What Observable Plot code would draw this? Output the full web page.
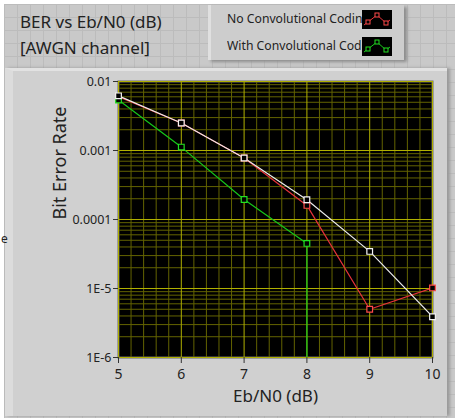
<!DOCTYPE html>
<html><head><meta charset="utf-8">
<script src="https://cdn.jsdelivr.net/npm/d3@7"></script>
<script src="https://cdn.jsdelivr.net/npm/@observablehq/plot@0.6"></script>
<style>
body{margin:0;background:#fff;}
#root{position:relative;width:455px;height:418px;overflow:hidden;background-color:#c9c9c9;
 background-image:linear-gradient(#bcbcbc 1px,transparent 1px),linear-gradient(90deg,#bcbcbc 1px,transparent 1px);
 background-size:13px 13px;background-position:4px 4px;
 font-family:"Segoe UI","Noto Sans",sans-serif;color:#222;}
#edge{position:absolute;left:0;top:0;width:455px;height:418px;box-sizing:border-box;border-top:4px solid #fff;border-left:4px solid #fff;}
.title{position:absolute;left:20px;font-size:17px;color:#222;white-space:nowrap;}
#panel{position:absolute;left:5px;top:68px;width:442px;height:348px;background:#d0d0d0;
 box-sizing:border-box;border-left:8px solid #dcdcdc;border-top:3px solid #e2e2e2;box-shadow:3px 0 3px #9a9a9a;}
#legend{position:absolute;left:208px;top:5px;width:196px;height:55px;background:#cdcdcd;
 box-sizing:border-box;border-left:3px solid #e0e0e0;box-shadow:3px 2px 3px #8d8d8d;}
.lrow{position:absolute;left:16px;font-size:12.2px;white-space:nowrap;overflow:hidden;width:135px;color:#222;}
.sw{position:absolute;left:151px;width:30px;height:19px;background:#000;}
#chart{position:absolute;left:0;top:0;}
#stray{position:absolute;left:1px;top:230px;font-size:12px;}
</style></head>
<body>
<div id="root">
  <div id="edge"></div>
  <div class="title" style="top:10px">BER vs Eb/N0 (dB)</div>
  <div class="title" style="top:36px">[AWGN channel]</div>
  <div id="legend"></div>
  <div id="panel"></div>
  <div id="stray">e</div>
  <div id="chart"></div>
</div>
<script>
// ---- data ----
const ebn0 = [5, 6, 7, 8, 9, 10];
const berNoCoding   = [0.0060, 0.0025, 0.00078, 0.00016, 0.0000050, 0.0000102];
const berWithCoding = [0.0054, 0.00112, 0.000195, 0.000045, 0, 0];
const berReference  = [0.0062, 0.0025, 0.00078, 0.000193, 0.0000345, 0.0000039];
const seriesNames = ["No Convolutional Coding", "With Convolutional Coding"];
const xTickValues = [5, 6, 7, 8, 9, 10];
const yTickValues = [0.01, 0.001, 0.0001, 0.00001, 0.000001];
const yTickLabels = ["0.01", "0.001", "0.0001", "1E-5", "1E-6"];
const xLabel = "Eb/N0 (dB)";
const yLabel = "Bit Error Rate";

const yMin = 1e-6, yMax = 0.01;

// series -> point rows (zero values drop straight down to the axis floor)
function toLine(values) {
  const pts = [];
  let lastX = null;
  for (let i = 0; i < ebn0.length; i++) {
    if (values[i] > 0) { pts.push({x: ebn0[i], y: values[i]}); lastX = ebn0[i]; }
    else { if (lastX !== null) pts.push({x: lastX, y: yMin * 0.5}); break; }
  }
  return pts;
}
function toDots(values) {
  return ebn0.map((x, i) => ({x, y: values[i]})).filter(d => d.y > 0);
}

// grid
const xMinor = d3.range(50, 101, 2).filter(v => v % 10 !== 0).map(v => v / 10);
const xMajor = xTickValues;
const yMajor = yTickValues;
const yMinor = [];
for (const dec of [1e-6, 1e-5, 1e-4, 1e-3]) for (let k = 2; k <= 9; k++) yMinor.push(dec * k);

const redC = "#e8323a", greenC = "#16c81a", whiteC = "#ececec";

const chart = Plot.plot({
  width: 455, height: 418,
  marginLeft: 118, marginRight: 23, marginTop: 81, marginBottom: 61,
  style: {background: "transparent", fontFamily: "'Segoe UI','Noto Sans',sans-serif", color: "#222", overflow: "visible"},
  x: {domain: [5, 10]},
  y: {type: "log", domain: [yMin, yMax], clamp: false},
  marks: [
    Plot.frame({fill: "black", stroke: "#6a6a6a", strokeWidth: 2}),
    Plot.ruleX(xMinor, {stroke: "#636300", strokeWidth: 1}),
    Plot.ruleY(yMinor, {stroke: "#636300", strokeWidth: 1}),
    Plot.ruleX(xMajor, {stroke: "#b0b000", strokeWidth: 1}),
    Plot.ruleY(yMajor, {stroke: "#b0b000", strokeWidth: 1}),
    Plot.line(toLine(berNoCoding), {x: "x", y: "y", stroke: redC, strokeWidth: 1.2, clip: true}),
    Plot.line(toLine(berWithCoding), {x: "x", y: "y", stroke: greenC, strokeWidth: 1.2, clip: true}),
    Plot.line(toLine(berReference), {x: "x", y: "y", stroke: whiteC, strokeWidth: 1.2, clip: true}),
    Plot.dot(toDots(berNoCoding), {x: "x", y: "y", symbol: "square", r: 3.2, stroke: "#ff4a4a", fill: "#000", strokeWidth: 1.2}),
    Plot.dot(toDots(berWithCoding), {x: "x", y: "y", symbol: "square", r: 3.2, stroke: "#22e022", fill: "#000", strokeWidth: 1.2}),
    Plot.dot(toDots(berReference), {x: "x", y: "y", symbol: "square", r: 3.2, stroke: "#f4f4f4", fill: "#000", strokeWidth: 1.2}),
    Plot.axisX({ticks: xTickValues, tickSize: 6, tickPadding: 6, tickFormat: d => String(d),
      fontSize: 14, stroke: "#333", label: null}),
    Plot.axisY({ticks: yTickValues, tickSize: 5, tickPadding: 2,
      tickFormat: d => yTickLabels[yTickValues.indexOf(d)], fontSize: 12.5, stroke: "#333", label: null}),
    Plot.text([xLabel], {frameAnchor: "bottom", dy: 44, fontSize: 17, fill: "#222"}),
    Plot.text([yLabel], {frameAnchor: "left", dx: -58, rotate: -90, fontSize: 18, fill: "#222"})
  ]
});
document.getElementById("chart").appendChild(chart);

// legend
const legend = document.getElementById("legend");
const legendColors = [["#e8323a", "#ff4a4a"], ["#16c81a", "#22e022"]];
seriesNames.forEach((name, i) => {
  const top = i === 0 ? 5 : 32;
  const row = document.createElement("div");
  row.className = "lrow"; row.style.top = top + "px"; row.textContent = name;
  legend.appendChild(row);
  const sw = document.createElement("div");
  sw.className = "sw"; sw.style.top = top + "px";
  sw.innerHTML = `<svg width="30" height="19"><polyline points="2,15 6,12 15,5 24,13 28,10" fill="none" stroke="${legendColors[i][0]}" stroke-width="1"/>
    <rect x="4" y="10" width="4" height="4" fill="#000" stroke="${legendColors[i][1]}"/>
    <rect x="13" y="3" width="4" height="4" fill="#000" stroke="${legendColors[i][1]}"/>
    <rect x="22" y="11" width="4" height="4" fill="#000" stroke="${legendColors[i][1]}"/></svg>`;
  legend.appendChild(sw);
});
</script>
</body></html>
